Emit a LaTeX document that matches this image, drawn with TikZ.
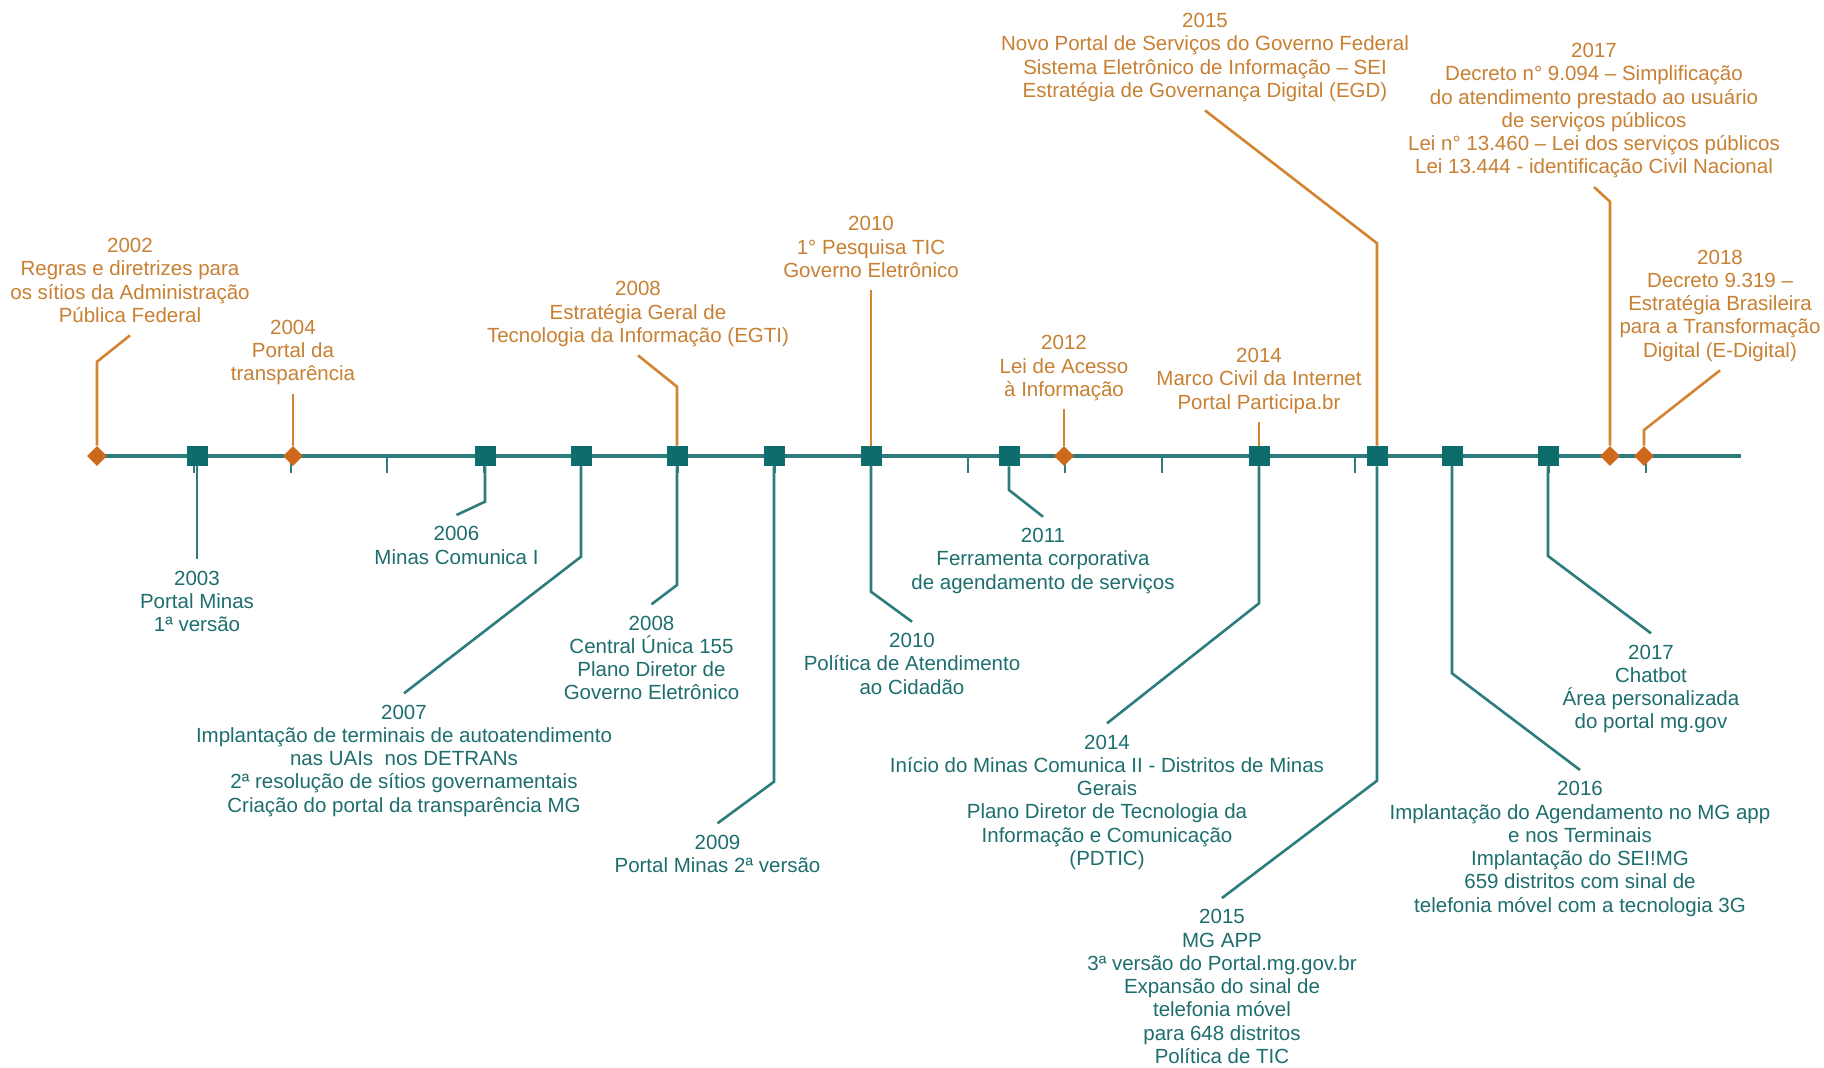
\documentclass[tikz,border=0pt]{standalone}
\usepackage{fontspec}
\setmainfont{Liberation Sans}
\usetikzlibrary{positioning}
\usetikzlibrary{shapes}
\definecolor{tealmark}{RGB}{14,108,108}
\definecolor{tealline}{RGB}{46,124,124}
\definecolor{tealtext}{RGB}{30,110,110}
\definecolor{orangemark}{RGB}{206,104,28}
\definecolor{orangeline}{RGB}{210,132,48}
\definecolor{orangetext}{RGB}{200,128,50}
\tikzset{
        eventtext/.style={align=center, inner sep=0pt, anchor=north,
            font=\fontsize{10.25pt}{11.65pt}\selectfont,
            execute at begin node=\strut, execute at end node=\strut},
        % Events above the axis
        node_top/.style={eventtext, text=orangetext},
        % Events below the axis
        node_bottom/.style={eventtext, text=tealtext},
        % Square markers
        node_square/.style={rectangle, fill=tealmark, inner sep=0pt, minimum width=10.5pt, minimum height=10pt},
        % Diamond markers
        node_diamond/.style={diamond, fill=orangemark, inner sep=0pt, minimum width=10pt, minimum height=10pt},
        % Leader lines
        edge_top/.style={draw=orangeline, line width=1.3pt},
        edge_bottom/.style={draw=tealline, line width=1.3pt}
}

\begin{document}
\begin{tikzpicture}[
            x=0.5pt, y=-0.5pt,
            axis_line/.style={draw=tealline, line width=2pt},
            axis_tick/.style={draw=tealline, line width=1pt}
        ]
            \fill[white] (0,0) rectangle (1824,1067);
            \useasboundingbox (0,0) rectangle (1824,1067);

            % axis and year ticks
            \coordinate (axis_start) at (97,456);
            \coordinate (axis_end) at (1741,456);
            \draw[axis_line] (axis_start) -- (axis_end);
            \foreach \k in {1,...,16}
                \draw[axis_tick] (97+96.8*\k,456) -- ++(0,17);

            % markers
            \foreach \yr/\xx in {2002/97, 2004/293, 2012/1064, 2017/1610, 2018/1644}
                \node[node_diamond] (dm\yr) at (\xx,456) {};
            \foreach \yr/\xx in {2003/197, 2006/485, 2007/581, 2008/677, 2009/774, 2010/871,
                                 2011/1009, 2014/1259, 2015/1377, 2016/1452, 2017/1548}
                \node[node_square] (sq\yr) at (\xx,456) {};

            % events above
            \node[node_top] (tx2002) at (130,237.7) {2002\\Regras e diretrizes para\\os sítios da Administração\\Pública Federal};
            \node[node_top] (tx2004) at (293,319.3) {2004\\Portal da\\transparência};
            \node[node_top] (tx2008a) at (638,281) {2008\\Estratégia Geral de\\Tecnologia da Informação (EGTI)};
            \node[node_top] (tx2010a) at (871,216) {2010\\1° Pesquisa TIC\\Governo Eletrônico};
            \node[node_top] (tx2012) at (1064,335) {2012\\Lei de Acesso\\à Informação};
            \node[node_top] (tx2014a) at (1259,347.7) {2014\\Marco Civil da Internet\\Portal Participa.br};
            \node[node_top] (tx2015a) at (1205,12.7) {2015\\Novo Portal de Serviços do Governo Federal\\Sistema Eletrônico de Informação – SEI\\Estratégia de Governança Digital (EGD)};
            \node[node_top] (tx2017a) at (1594,42.7) {2017\\Decreto n° 9.094 – Simplificação\\do atendimento prestado ao usuário\\de serviços públicos\\Lei n° 13.460 – Lei dos serviços públicos\\Lei 13.444 - identificação Civil Nacional};
            \node[node_top] (tx2018) at (1720,249.3) {2018\\Decreto 9.319 –\\Estratégia Brasileira\\para a Transformação\\Digital (E-Digital)};

            % events below
            \node[node_bottom] (tx2003) at (197,570.3) {2003\\Portal Minas\\1ª versão};
            \node[node_bottom] (tx2006) at (456.5,526) {2006\\Minas Comunica I};
            \node[node_bottom] (tx2007) at (404,704.3) {2007\\Implantação de terminais de autoatendimento\\nas UAIs\ \ nos DETRANs\\2ª resolução de sítios governamentais\\Criação do portal da transparência MG};
            \node[node_bottom] (tx2008b) at (651.5,615.3) {2008\\Central Única 155\\Plano Diretor de\\Governo Eletrônico};
            \node[node_bottom] (tx2009) at (717.5,834.3) {2009\\Portal Minas 2ª versão};
            \node[node_bottom] (tx2010b) at (912,632.7) {2010\\Política de Atendimento\\ao Cidadão};
            \node[node_bottom] (tx2011) at (1043,527.7) {2011\\Ferramenta corporativa\\de agendamento de serviços};
            \node[node_bottom] (tx2014b) at (1107,734.3) {2014\\Início do Minas Comunica II - Distritos de Minas\\Gerais\\Plano Diretor de Tecnologia da\\Informação e Comunicação\\(PDTIC)};
            \node[node_bottom] (tx2015b) at (1222,909) {2015\\MG APP\\3ª versão do Portal.mg.gov.br\\Expansão do sinal de\\telefonia móvel\\para 648 distritos\\Política de TIC};
            \node[node_bottom] (tx2016) at (1580,781) {2016\\Implantação do Agendamento no MG app\\e nos Terminais\\Implantação do SEI!MG\\659 distritos com sinal de\\telefonia móvel com a tecnologia 3G};
            \node[node_bottom] (tx2017b) at (1651,644.3) {2017\\Chatbot\\Área personalizada\\do portal mg.gov};

            % leader lines above
            \draw[edge_top] (dm2002) -- ++(0,-94.3) -- ([yshift=-2.85pt]tx2002.south);
            \draw[edge_top] (dm2004) -- ([yshift=-2.85pt]tx2004.south);
            \draw[edge_top] (sq2008) -- ++(0,-69.3) -- ([yshift=-2.85pt]tx2008a.south);
            \draw[edge_top] (sq2010) -- ([yshift=-2.85pt]tx2010a.south);
            \draw[edge_top] (dm2012) -- ([yshift=-2.85pt]tx2012.south);
            \draw[edge_top] (sq2014) -- ([yshift=-2.85pt]tx2014a.south);
            \draw[edge_top] (sq2015) -- ++(0,-212.7) -- ([yshift=-2.85pt]tx2015a.south);
            \draw[edge_top] (dm2017) -- ++(0,-254.3) -- ([yshift=-2.85pt]tx2017a.south);
            \draw[edge_top] (dm2018) -- ++(0,-26) -- ([yshift=-2.85pt]tx2018.south);

            % leader lines below
            \draw[edge_bottom] (sq2003) -- ([yshift=5.5pt]tx2003.north);
            \draw[edge_bottom] (sq2006) -- ++(0,45.7) -- ([yshift=5.5pt]tx2006.north);
            \draw[edge_bottom] (sq2007) -- ++(0,100.7) -- ([yshift=5.5pt]tx2007.north);
            \draw[edge_bottom] (sq2008) -- ++(0,129) -- ([yshift=5.5pt]tx2008b.north);
            \draw[edge_bottom] (sq2009) -- ++(0,325.7) -- ([yshift=5.5pt]tx2009.north);
            \draw[edge_bottom] (sq2010) -- ++(0,135.7) -- ([yshift=5.5pt]tx2010b.north);
            \draw[edge_bottom] (sq2011) -- ++(0,34) -- ([yshift=5.5pt]tx2011.north);
            \draw[edge_bottom] (sq2014) -- ++(0,147.3) -- ([yshift=5.5pt]tx2014b.north);
            \draw[edge_bottom] (sq2015) -- ++(0,324.7) -- ([yshift=5.5pt]tx2015b.north);
            \draw[edge_bottom] (sq2016) -- ++(0,217.3) -- ([yshift=5.5pt]tx2016.north);
            \draw[edge_bottom] (sq2017) -- ++(0,100) -- ([yshift=5.5pt]tx2017b.north);
\end{tikzpicture}
\end{document}
